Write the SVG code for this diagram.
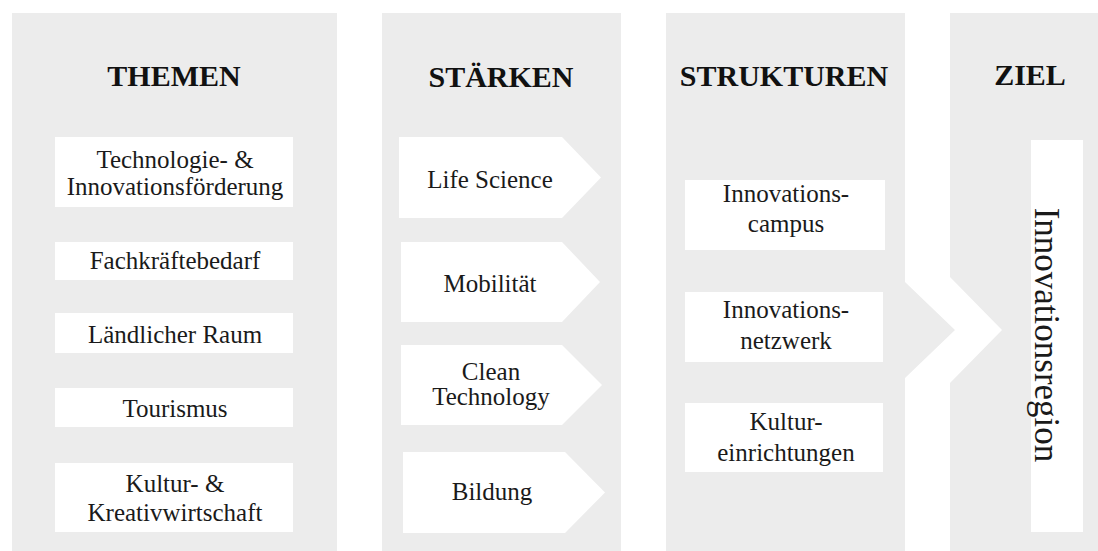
<svg xmlns="http://www.w3.org/2000/svg" width="1098" height="551" viewBox="0 0 1098 551">
<style>
.panel{fill:#ececec}
.box{fill:#ffffff}
.title{font-family:"Liberation Serif","Times New Roman",serif;font-weight:bold;font-size:30px;fill:#111111;text-anchor:middle}
.lbl{font-family:"Liberation Serif","Times New Roman",serif;font-size:25px;fill:#1a1a1a;text-anchor:middle}
.vert{font-family:"Liberation Serif","Times New Roman",serif;font-size:35px;fill:#1a1a1a;text-anchor:middle}
</style>
<rect width="1098" height="551" fill="#ffffff"/>
<g id="panel-themen">
  <rect class="panel" x="12" y="13" width="325" height="538"/>
  <text class="title" x="174" y="86">THEMEN</text>
</g>
<g id="panel-staerken">
  <rect class="panel" x="382" y="13" width="239" height="538"/>
  <text class="title" x="501" y="87">STÄRKEN</text>
</g>
<g id="panel-strukturen">
  <polygon class="panel" points="666,13 905,13 905,282 955,330 905,378 905,551 666,551"/>
  <text class="title" x="784" y="86">STRUKTUREN</text>
</g>
<g id="panel-ziel">
  <polygon class="panel" points="950,13 1098,13 1098,551 950,551 950,383 1002,330 950,277"/>
  <text class="title" x="1030" y="85">ZIEL</text>
</g>

<g id="t-technologie">
  <rect class="box" x="55" y="137" width="238" height="70"/>
  <text class="lbl" x="175" y="168">Technologie- &amp;</text>
  <text class="lbl" x="175" y="195">Innovationsförderung</text>
</g>
<g id="t-fachkraefte">
  <rect class="box" x="55" y="242" width="238" height="38"/>
  <text class="lbl" x="175" y="269">Fachkräftebedarf</text>
</g>
<g id="t-laendlich">
  <rect class="box" x="55" y="313" width="238" height="40"/>
  <text class="lbl" x="175" y="343">Ländlicher Raum</text>
</g>
<g id="t-tourismus">
  <rect class="box" x="55" y="388" width="238" height="39"/>
  <text class="lbl" x="175" y="417">Tourismus</text>
</g>
<g id="t-kultur">
  <rect class="box" x="55" y="463" width="238" height="69"/>
  <text class="lbl" x="175" y="492">Kultur- &amp;</text>
  <text class="lbl" x="175" y="521">Kreativwirtschaft</text>
</g>

<g id="s-life">
  <polygon class="box" points="399,137 562,137 601,177.5 562,218 399,218"/>
  <text class="lbl" x="490" y="188">Life Science</text>
</g>
<g id="s-mobil">
  <polygon class="box" points="401,242 562,242 600,282 562,322 401,322"/>
  <text class="lbl" x="490" y="292">Mobilität</text>
</g>
<g id="s-clean">
  <polygon class="box" points="401,345 562,345 602,385 562,425 401,425"/>
  <text class="lbl" x="491" y="380">Clean</text>
  <text class="lbl" x="491" y="405">Technology</text>
</g>
<g id="s-bildung">
  <polygon class="box" points="403,452 565,452 605,492.5 565,533 403,533"/>
  <text class="lbl" x="492" y="500">Bildung</text>
</g>

<g id="k-campus">
  <rect class="box" x="685" y="180" width="200" height="70"/>
  <text class="lbl" x="786" y="202">Innovations-</text>
  <text class="lbl" x="786" y="232">campus</text>
</g>
<g id="k-netzwerk">
  <rect class="box" x="685" y="292" width="198" height="70"/>
  <text class="lbl" x="786" y="318">Innovations-</text>
  <text class="lbl" x="786" y="349">netzwerk</text>
</g>
<g id="k-kultur">
  <rect class="box" x="685" y="403" width="198" height="69"/>
  <text class="lbl" x="786" y="430">Kultur-</text>
  <text class="lbl" x="786" y="461">einrichtungen</text>
</g>

<g id="z-innovationsregion">
  <rect class="box" x="1031" y="140" width="52" height="392"/>
  <text class="vert" transform="translate(1035,335) rotate(90)" x="0" y="0">Innovationsregion</text>
</g>

<g id="connectors"></g>
</svg>
